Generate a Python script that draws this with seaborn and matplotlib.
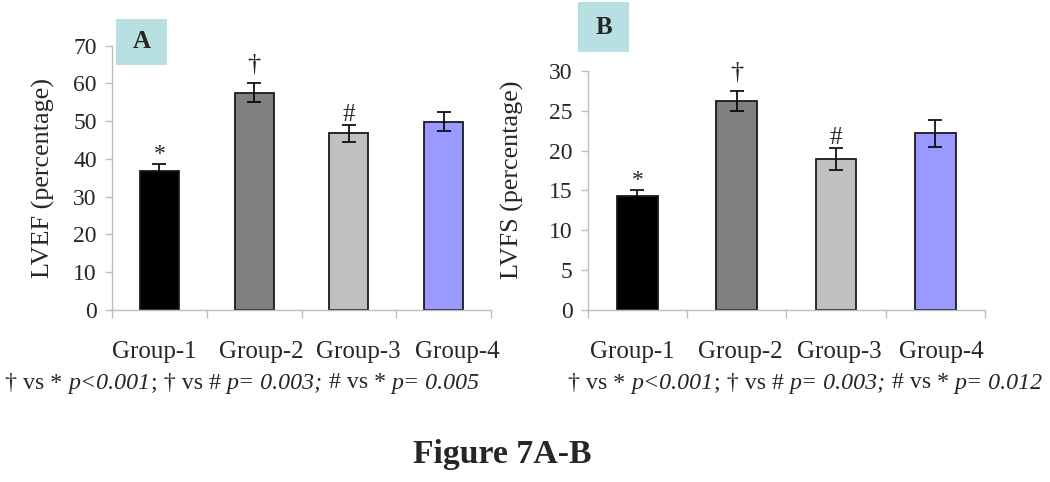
import matplotlib
matplotlib.use("Agg")
import matplotlib.pyplot as plt
import seaborn as sns
from matplotlib.patches import Rectangle
from matplotlib.ticker import FixedLocator, MultipleLocator

# ---------------- data ----------------
groups = ["Group-1", "Group-2", "Group-3", "Group-4"]
lvef = [36.7, 57.5, 46.8, 49.9]
lvef_err = [2.0, 2.5, 2.3, 2.6]
lvfs = [14.3, 26.2, 18.95, 22.2]
lvfs_err = [0.75, 1.25, 1.35, 1.7]
marks = ["*", "\u2020", "#", ""]
bar_colors = ["#000000", "#808080", "#c0c0c0", "#9999ff"]

footA = [("\u2020 vs * ", "normal"), ("p<0.001", "italic"), ("; \u2020 vs # ", "normal"),
         ("p= 0.003;", "italic"), (" # vs * ", "normal"), ("p= 0.005", "italic")]
footB = [("\u2020 vs * ", "normal"), ("p<0.001", "italic"), ("; \u2020 vs # ", "normal"),
         ("p= 0.003;", "italic"), (" # vs * ", "normal"), ("p= 0.012", "italic")]

sns.set_style("white")
plt.rcParams["font.family"] = ["Liberation Serif", "DejaVu Serif"]

W, H = 1050, 482
fig = plt.figure(figsize=(W / 100, H / 100), dpi=100)


def fx(px):
    return px / W


def fy(py):
    return (H - py) / H


axA = fig.add_axes([fx(112), fy(310), (491 - 112) / W, (310 - 45.7) / H])
axB = fig.add_axes([fx(587.7), fy(310), (985 - 587.7) / W, (310 - 71) / H])

AXC = "#bdbdbd"
# (fontsize, baseline offset in px above the error-bar top)
mark_style = {"*": (17, 4), "\u2020": (19, 13), "#": (18, 4)}


def draw_panel(ax, vals, errs, ylabel, ymax, ystep, lab_x, lab_y, lab_shift_px, ax_w_px):
    sns.barplot(x=groups, y=vals, hue=groups, palette=bar_colors, width=0.41,
                saturation=1, edgecolor="#1a1a1a", linewidth=1.3,
                legend=False, ax=ax, errorbar=None)
    ax.errorbar(range(len(vals)), vals, yerr=errs, fmt="none", ecolor="black",
                elinewidth=1.2, capsize=5, capthick=1.2, zorder=5)
    for i, (v, e, m) in enumerate(zip(vals, errs, marks)):
        if m:
            fs, off = mark_style[m]
            ax.annotate(m, (i, v + e), xytext=(0, off), textcoords="offset pixels",
                        ha="center", va="baseline", fontsize=fs)
    n = len(vals)
    ax.set_xlim(-0.5, n - 0.5)
    ax.set_ylim(0, ymax)
    ax.yaxis.set_major_locator(MultipleLocator(ystep))
    # category label placement (slightly spread, as in the original layout)
    unit = ax_w_px / n
    ax.set_xticks([i + s / unit for i, s in enumerate(lab_shift_px)], groups)
    for s in ["top", "right"]:
        ax.spines[s].set_visible(False)
    for s in ["left", "bottom"]:
        ax.spines[s].set_color(AXC)
        ax.spines[s].set_linewidth(1.0)
    ax.tick_params(axis="y", which="major", direction="out", length=5, width=1,
                   color=AXC, labelsize=17, pad=6, left=True)
    ax.tick_params(axis="x", which="major", length=0, labelsize=18, pad=22)
    ax.xaxis.set_minor_locator(FixedLocator([x - 0.5 for x in range(n + 1)]))
    ax.tick_params(axis="x", which="minor", direction="out", length=6, width=1,
                   color=AXC, bottom=True)
    ax.set_xlabel("")
    ax.set_ylabel(ylabel, fontsize=18.8)
    ax.yaxis.set_label_coords(lab_x, lab_y)
    ax.grid(False)


draw_panel(axA, lvef, lvef_err, "LVEF (percentage)", 70, 10, -0.15, 0.5,
           [-5.5, 7, 9, 13.5], 379)
draw_panel(axB, lvfs, lvfs_err, "LVFS (percentage)", 30, 5, -0.16, 0.544,
           [-5, 3.5, 3, 6], 397.3)

# panel letter boxes
for (x0, y0, x1, y1, letter) in [(116, 19, 167, 65, "A"), (578, 2, 629, 52, "B")]:
    fig.patches.append(Rectangle((fx(x0), fy(y1)), (x1 - x0) / W, (y1 - y0) / H,
                                 transform=fig.transFigure, facecolor="#b8e0e2",
                                 edgecolor="none", zorder=0))
    fig.text(fx((x0 + x1) / 2), fy((y0 + y1) / 2), letter, ha="center", va="center",
             fontsize=18, fontweight="bold")

# footnotes with mixed italic
renderer = fig.canvas.get_renderer()


def mixed_line(parts, cx, cy, size):
    texts, widths = [], []
    for s, st in parts:
        t = fig.text(0, fy(cy), s, fontsize=size, style=st, ha="left", va="center")
        widths.append(t.get_window_extent(renderer).width)
        texts.append(t)
    x = cx - sum(widths) / 2
    for t, w in zip(texts, widths):
        t.set_x(fx(x))
        x += w


mixed_line(footA, 242.5, 383, 17.2)
mixed_line(footB, 805.5, 383, 17.2)

fig.text(fx(502), fy(455), "Figure 7A-B", ha="center", va="center",
         fontsize=24.3, fontweight="bold")

fig.savefig("out.png", dpi=100)
